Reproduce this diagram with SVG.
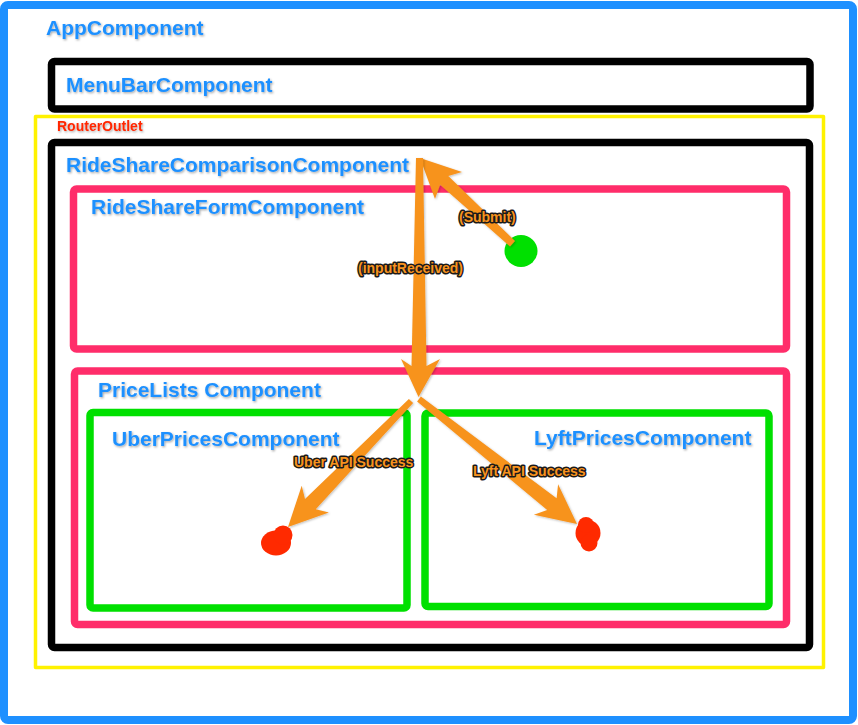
<svg xmlns="http://www.w3.org/2000/svg" width="858" height="725" viewBox="0 0 858 725">
<defs>
<filter id="ts" x="-10%" y="-30%" width="120%" height="160%">
<feDropShadow dx="1" dy="1.2" stdDeviation="0.9" flood-color="#000" flood-opacity="0.35"/>
</filter>
<filter id="as" x="-20%" y="-20%" width="140%" height="140%">
<feDropShadow dx="1" dy="1" stdDeviation="1" flood-color="#000" flood-opacity="0.25"/>
</filter>
</defs>
<style>
.box{fill:none;stroke-linejoin:round}
.blue{stroke:#1E90FF;stroke-width:8}
.black{stroke:#000;stroke-width:7.5}
.yellow{stroke:#FFF200;stroke-width:3.5}
.pink{stroke:#FF2D6A;stroke-width:7.5}
.green{stroke:#00E000;stroke-width:7.5}
.t{font-family:"Liberation Sans",Arial,sans-serif;font-weight:bold;font-size:21px;fill:#1E90FF;filter:url(#ts)}
.r{font-family:"Liberation Sans",Arial,sans-serif;font-weight:bold;font-size:14px;fill:#FF2600;filter:url(#ts)}
.lbl{font-family:"Liberation Sans",Arial,sans-serif;font-weight:bold;font-size:14px;fill:#F7931E;stroke:#1a1a1a;stroke-width:3;stroke-linejoin:round;paint-order:stroke}
.arrow{fill:#F7931E;filter:url(#as)}
</style>
<rect width="858" height="725" fill="#fff"/>
<g id="AppComponent">
<rect class="box blue" x="4" y="5" width="849" height="715" rx="4"/>
<text class="t" x="46" y="35">AppComponent</text>
</g>
<g id="MenuBarComponent">
<rect class="box black" x="51.5" y="61.5" width="758.5" height="47.5" rx="3"/>
<text class="t" x="66" y="92">MenuBarComponent</text>
</g>
<g id="RouterOutlet">
<rect class="box yellow" x="35.5" y="116.5" width="788" height="551"/>
<text class="r" x="57" y="131">RouterOutlet</text>
</g>
<g id="RideShareComparisonComponent">
<rect class="box black" x="51.5" y="142.5" width="758" height="505" rx="3"/>
<text class="t" x="66" y="172">RideShareComparisonComponent</text>
</g>
<g id="RideShareFormComponent">
<rect class="box pink" x="73.5" y="189" width="713" height="160" rx="3"/>
<text class="t" x="91" y="214">RideShareFormComponent</text>
</g>
<g id="PriceListsComponent">
<rect class="box pink" x="74.5" y="371" width="712" height="253.5" rx="3"/>
<text class="t" x="98" y="397">PriceLists Component</text>
</g>
<g id="UberPricesComponent">
<rect class="box green" x="90" y="412.5" width="317" height="195.5" rx="3"/>
<text class="t" x="112" y="446">UberPricesComponent</text>
</g>
<g id="LyftPricesComponent">
<rect class="box green" x="425" y="413" width="344" height="193.5" rx="3"/>
<text class="t" x="534" y="445">LyftPricesComponent</text>
</g>
<g id="submit-dot">
<ellipse cx="521" cy="251" rx="16.5" ry="16" fill="#00E000"/>
</g>
<g id="uber-dot">
<ellipse cx="276" cy="543" rx="15" ry="12.5" fill="#FF2A00"/>
<circle cx="283" cy="535" r="9.5" fill="#FF2A00"/>
</g>
<g id="lyft-dot">
<ellipse cx="588" cy="533" rx="12.5" ry="13" fill="#FF2A00"/>
<circle cx="589" cy="543" r="8.5" fill="#FF2A00"/>
<circle cx="586" cy="525" r="8" fill="#FF2A00"/>
</g>
<g id="connectors">
<polygon class="arrow" points="420,158 462,172 448.3,176 515,241 510,246.5 440.1,184.8 435,199"/>
<polygon class="arrow" points="416,158 423,158 426.5,366 440,359 418.5,397 401,359 411.5,366"/>
<polygon class="arrow" points="288,527 328.9,512.4 315.8,509.3 413.1,403.1 408.9,398.9 305,498.9 301.7,485.8"/>
<polygon class="arrow" points="577,524 558.1,484.2 556.6,498.3 420.9,396.6 417.1,401.4 547.2,510.1 533.9,514.8"/>
<text class="lbl" x="459" y="222">(Submit)</text>
<text class="lbl" x="358" y="273">(inputReceived)</text>
<text class="lbl" x="294" y="467">Uber API Success</text>
<text class="lbl" x="473" y="476">Lyft API Success</text>
</g>
</svg>
